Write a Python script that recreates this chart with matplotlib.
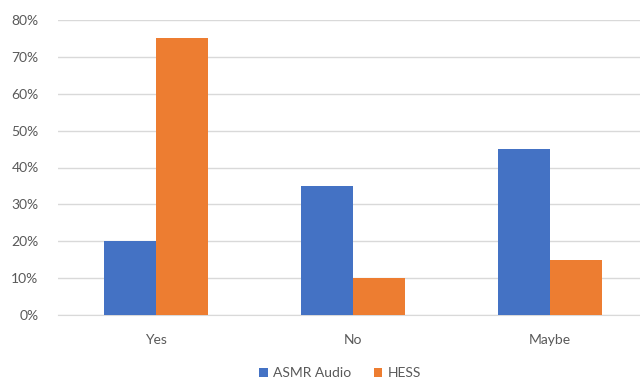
import numpy as np
import matplotlib.pyplot as plt
from matplotlib.ticker import PercentFormatter

plt.rcParams['font.family'] = ['Lato', 'DejaVu Sans']

# Dados das respostas
categorias = ["Yes", "No", "Maybe"]
asmr_audio = [20, 35, 45]
hess = [75, 10, 15]

cor_texto = "#595959"
x = np.arange(len(categorias))
largura = 0.265

fig = plt.figure(figsize=(6.4, 3.83), dpi=100)
ax = fig.add_axes([58 / 640, 68 / 383, 590 / 640, 295 / 383])

ax.bar(x - largura / 2, asmr_audio, largura, color="#4472C4", label="ASMR Audio", zorder=3)
ax.bar(x + largura / 2, hess, largura, color="#ED7D31", label="HESS", zorder=3)

ax.set_xlim(-0.5, 2.5)
ax.set_ylim(0, 80)
ax.set_yticks(range(0, 81, 10))
ax.yaxis.set_major_formatter(PercentFormatter(decimals=0))
ax.set_xticks(x)
ax.set_xticklabels(categorias)

ax.grid(axis="y", color="#D9D9D9", linewidth=1, zorder=0)
for lado in ["top", "right", "left"]:
    ax.spines[lado].set_visible(False)
ax.spines["bottom"].set_color("#D9D9D9")
ax.tick_params(axis="both", length=0, colors=cor_texto, labelsize=10)
ax.tick_params(axis="y", pad=14)
ax.tick_params(axis="x", pad=14)

fig.legend(loc="center", bbox_to_anchor=(340 / 640, 1 - 373 / 383), ncol=2,
           frameon=False, fontsize=10, labelcolor=cor_texto,
           handlelength=0.6, handleheight=0.6, handletextpad=0.4, columnspacing=1.6)

fig.savefig("out.png", dpi=100)
